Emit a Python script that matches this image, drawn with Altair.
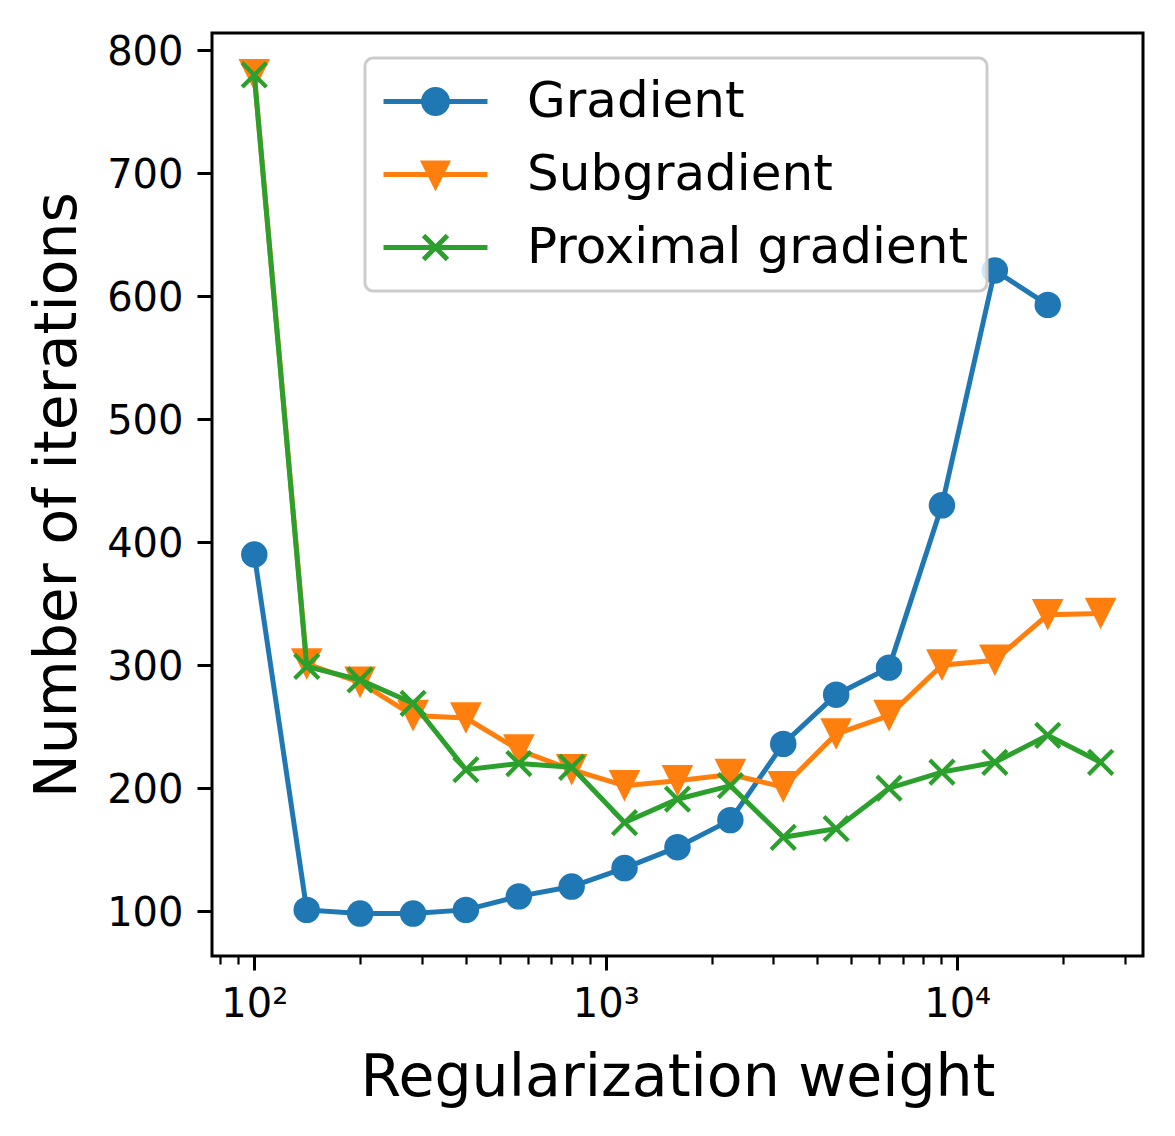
import altair as alt
import pandas as pd

# Regularization weights (log-spaced by sqrt(2)) and iteration counts per method
weights = [100, 141, 200, 283, 400, 566, 800, 1131, 1600, 2263, 3200,
           4525, 6400, 9051, 12800, 18102, 25600]
gradient = [390, 101, 98, 98, 101, 112, 120, 135, 152, 174, 236,
            276, 298, 430, 621, 593]
subgradient = [780, 301, 286, 259, 257, 231, 215, 202, 206, 211, 201,
               244, 259, 300, 304, 341, 342]
proximal = [780, 299, 288, 269, 215, 220, 217, 172, 191, 202, 160,
            167, 200, 213, 221, 243, 221]

methods = ["Gradient", "Subgradient", "Proximal gradient"]
colors = ["#1f77b4", "#ff7f0e", "#2ca02c"]

major_ticks = [100, 1000, 10000]
minor_ticks = [80, 90, 200, 300, 400, 500, 600, 700, 800, 900,
               2000, 3000, 4000, 5000, 6000, 7000, 8000, 9000, 20000, 30000]
y_ticks = [100, 200, 300, 400, 500, 600, 700, 800]

rows = []
for name, values in zip(methods, [gradient, subgradient, proximal]):
    for w, v in zip(weights, values):
        rows.append({"weight": w, "iterations": v, "method": name})
df = pd.DataFrame(rows)

FONT = "DejaVu Sans"

x_scale = alt.Scale(type="log", domain=[75.8, 33790], nice=False)
y_scale = alt.Scale(domain=[63.5, 814.1], nice=False, zero=False)
color_scale = alt.Scale(domain=methods, range=colors)

# Plot markers: filled circle, downward triangle, filled "x" polygon
X_PATH = ("M0,-0.212L0.752,-0.964L0.964,-0.752L0.212,0L0.964,0.752L0.752,0.964"
          "L0,0.212L-0.752,0.964L-0.964,0.752L-0.212,0L-0.964,-0.752L-0.752,-0.964Z")
marker_shapes = ["circle", "M-1,-1L1,-1L0,1Z", X_PATH]
marker_sizes = [700, 1000, 800]

# Legend glyphs: a line segment with the marker on top
LEG_CIRCLE = "M-2.26,0H2.26M-0.52,0A0.52,0.52,0,1,0,0.52,0A0.52,0.52,0,1,0,-0.52,0Z"
LEG_TRI = "M-2.26,0H2.26M-0.5,-0.5L0.5,-0.5L0,0.5Z"
LEG_X = "M-2.26,0H2.26M-0.52,-0.52L0.52,0.52M-0.52,0.52L0.52,-0.52"
shape_expr = (f"datum.value === 'Gradient' ? '{LEG_CIRCLE}' : "
              f"datum.value === 'Subgradient' ? '{LEG_TRI}' : '{LEG_X}'")
entry_color = "scale('color', datum.value)"

legend = alt.Legend(
    title=None,
    orient="none",
    legendX=153,
    legendY=25,
    padding=18,
    fillColor="rgba(255,255,255,0.8)",
    strokeColor="#cccccc",
    cornerRadius=8,
    labelFont=FONT,
    labelFontSize=50,
    labelColor="black",
    labelLimit=1000,
    symbolType=alt.ExprRef(expr=shape_expr),
    symbolFillColor=alt.ExprRef(expr=entry_color),
    symbolStrokeColor=alt.ExprRef(expr=entry_color),
    symbolSize=2116,
    symbolStrokeWidth=5,
    symbolOpacity=1,
    symbolOffset=27,
    labelOffset=66,
    rowPadding=22,
)

# One x axis carries both decade ticks and the 2..9 minor ticks; minor ticks
# are shortened with a dash pattern and get no label.
is_major = " || ".join(f"datum.value == {v}" for v in major_ticks)
x_axis = alt.Axis(
    values=sorted(major_ticks + minor_ticks),
    labelExpr=("datum.value == 100 ? '10\u00b2' : datum.value == 1000 ? '10\u00b3' : "
               "datum.value == 10000 ? '10\u2074' : ''"),
    labelFontSize=40,
    labelPadding=14,
    labelOverlap=False,
    tickSize=14,
    tickWidth={"condition": {"test": is_major, "value": 3}, "value": 2.2},
    tickDash={"condition": {"test": is_major, "value": [14, 0]}, "value": [8, 40]},
    title="Regularization weight",
    titleFontSize=58.5,
    titleX=465.5,
    titleY=139,
    titleBaseline="alphabetic",
    titleAlign="center",
)
y_axis = alt.Axis(
    values=y_ticks,
    labelFontSize=40,
    labelPadding=14,
    labelOffset=2,
    tickSize=15,
    tickWidth=3,
    title="Number of iterations",
    titleFontSize=58.5,
    titleX=-137,
    titleY=461.5,
    titleBaseline="alphabetic",
    titleAlign="center",
)

# Every layer shares identical axis and legend definitions so they merge into one
enc = dict(
    x=alt.X("weight:Q", scale=x_scale, axis=x_axis),
    y=alt.Y("iterations:Q", scale=y_scale, axis=y_axis),
    color=alt.Color("method:N", scale=color_scale, legend=legend),
)

layers = []
for i, name in enumerate(methods):
    base = alt.Chart(df).transform_filter(alt.datum.method == name)
    layers.append(base.mark_line(strokeWidth=5).encode(**enc))
    layers.append(
        base.mark_point(
            filled=True,
            shape=marker_shapes[i],
            size=marker_sizes[i],
            opacity=1,
            strokeWidth=0,
        ).encode(**enc)
    )

chart = (
    alt.layer(*layers)
    .properties(
        width=931,
        height=923,
        autosize=alt.AutoSizeParams(type="none"),
        padding={"left": 212, "top": 33, "right": 32, "bottom": 180},
        background="white",
    )
    .configure_view(stroke="black", strokeWidth=3)
    .configure_axis(
        labelFont=FONT,
        titleFont=FONT,
        labelColor="black",
        titleColor="black",
        tickColor="black",
        titleFontWeight="normal",
        grid=False,
        domain=False,
    )
    .configure_legend(strokeWidth=3)
)

chart.save("out.html", embed_options={"renderer": "svg", "actions": False})
